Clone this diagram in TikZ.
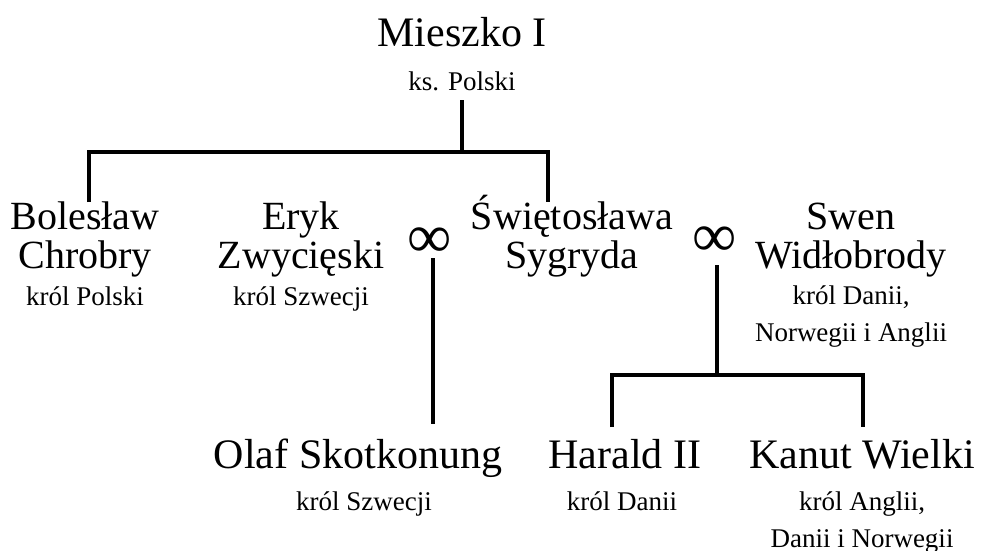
\documentclass[tikz,border=0pt]{standalone}
\usepackage{fontspec}
\setmainfont{Liberation Serif}
\begin{document}
\begin{tikzpicture}[x=1pt,y=1pt,
  pname/.style={font=\fontsize{40}{40}\selectfont, inner sep=0pt, anchor=base},
  pbig/.style={font=\fontsize{42}{42}\selectfont, inner sep=0pt, anchor=base},
  psub/.style={font=\fontsize{27}{27}\selectfont, inner sep=0pt, anchor=base},
  marr/.style={font=\fontsize{62}{62}\selectfont, inner sep=0pt},
  lin/.style={line width=3.5pt, line join=miter}]
\useasboundingbox (0,0) rectangle (982,-551);
% top
\node[pbig] (mieszko) at (462,-47) {Mieszko I};
\node[psub] (mieszkoT) at (462,-90) {ks. Polski};
% middle row
\node[pname] (bol1) at (85,-229) {Bolesław};
\node[pname] (bol2) at (85,-268) {Chrobry};
\node[psub] (bol3) at (85,-305) {król Polski};
\node[pname] (eryk1) at (301,-229) {Eryk};
\node[pname] (eryk2) at (301,-268) {Zwycięski};
\node[psub] (eryk3) at (301,-305) {król Szwecji};
\node[pname] (sw1) at (572,-229) {Świętosława};
\node[pname] (sw2) at (572,-268) {Sygryda};
\node[pname] (swen1) at (851,-229) {Swen};
\node[pname] (swen2) at (851,-268) {Widłobrody};
\node[psub] (swen3) at (851,-304) {król Danii,};
\node[psub] (swen4) at (851,-341) {Norwegii i Anglii};
\node[marr] (inf1) at (430,-243) {∞};
\node[marr] (inf2) at (715,-242) {∞};
% bottom row
\node[pbig] (olaf1) at (358,-468) {Olaf Skotkonung};
\node[psub] (olaf2) at (364,-510) {król Szwecji};
\node[pbig] (har1) at (625,-468) {Harald II};
\node[psub] (har2) at (622,-510) {król Danii};
\node[pbig] (kan1) at (862,-468) {Kanut Wielki};
\node[psub] (kan2) at (862,-510) {król Anglii,};
\node[psub] (kan3) at (862,-547) {Danii i Norwegii};
% junctions
\coordinate (mtop) at (462,-100);
\coordinate (mj) at (462,-152);
\coordinate (bolTop) at (89,-202);
\coordinate (swTop) at (548,-202);
\coordinate (i1top) at (433,-258);
\coordinate (olafTop) at (433,-424);
\coordinate (i2top) at (717,-265);
\coordinate (cj) at (717,-375);
\coordinate (harTop) at (612,-427);
\coordinate (kanTop) at (863,-427);
% connectors
\draw[lin] (mtop) -- (mj);
\draw[lin] (bolTop) |- (mj) -| (swTop);
\draw[lin] (i1top) -- (olafTop);
\draw[lin] (i2top) -- (cj);
\draw[lin] (harTop) |- (cj) -| (kanTop);
\end{tikzpicture}
\end{document}
